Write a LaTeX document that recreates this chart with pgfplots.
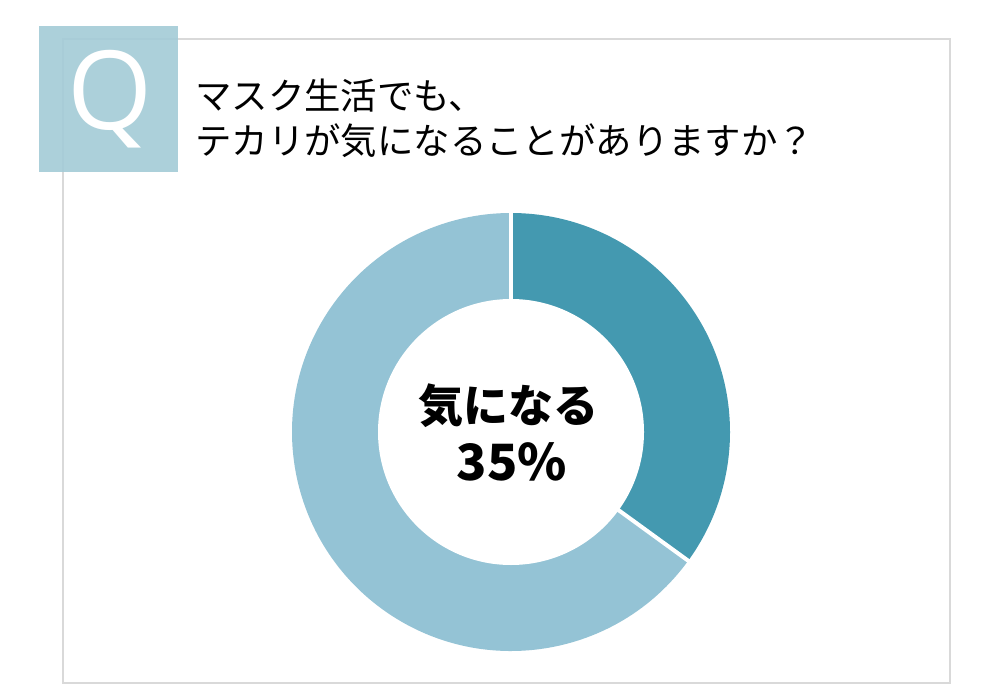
\documentclass[border=0pt]{standalone}
\usepackage{pgfplots}
\pgfplotsset{compat=1.18}
\usepackage{pgfplotstable}
\usepackage{fontspec}
\newfontfamily\cjk{Noto Sans CJK JP}
\newfontfamily\qfont{Open Sans}
\definecolor{darkteal}{HTML}{4499B0}
\definecolor{lightteal}{HTML}{94C3D5}
\definecolor{qbox}{HTML}{A3CBD7}
\definecolor{framegray}{HTML}{D9D9D9}
\pgfplotstableread{
value
35
65
}\donutdata
\begin{document}
\begin{tikzpicture}
\pgfplotstablegetelem{0}{value}\of\donutdata
\pgfmathsetmacro{\vA}{\pgfplotsretval}
\pgfmathsetmacro{\endA}{90-3.6*\vA}
\begin{axis}[
  x=0.75pt, y=0.75pt,
  xmin=0, xmax=991, ymin=0, ymax=686,
  hide axis, clip=false,
]
\fill[white] (axis cs:0,0) rectangle (axis cs:991,686);
% frame
\draw[framegray, line width=1.6pt] (axis cs:63,647) rectangle (axis cs:950,3);
% Q box
\fill[qbox, opacity=0.9] (axis cs:39,660) rectangle (axis cs:178,514);
\node[anchor=base, inner sep=0pt, text=white, font=\qfont\fontsize{82}{82}\selectfont] at (axis cs:110,556) {Q};
% title
\node[anchor=base west, inner sep=0pt, font=\cjk\fontsize{27.3}{27.3}\selectfont] at (axis cs:195,576) {マスク生活でも、};
\node[anchor=base west, inner sep=0pt, font=\cjk\fontsize{27.3}{27.3}\selectfont] at (axis cs:195,531) {テカリが気になることがありますか？};
% donut
\fill[darkteal] (axis cs:511,254) -- ++(90:164.25pt) arc[start angle=90, end angle=\endA, radius=164.25pt] -- cycle;
\fill[lightteal] (axis cs:511,254) -- ++(\endA:164.25pt) arc[start angle=\endA, end angle=-270, radius=164.25pt] -- cycle;
\draw[white, line width=3pt] (axis cs:511,254) -- ++(90:170pt);
\draw[white, line width=3pt] (axis cs:511,254) -- ++(\endA:170pt);
\fill[white] (axis cs:511,254) circle[radius=99.75pt];
% center label
\node[anchor=base, inner sep=0pt, font=\cjk\bfseries\fontsize{33.75}{33.75}\selectfont] at (axis cs:508,264) {気になる};
\node[anchor=base, inner sep=0pt, font=\cjk\bfseries\fontsize{37.5}{37.5}\selectfont] at (axis cs:512,206) {35\%};
\end{axis}
\end{tikzpicture}
\end{document}
